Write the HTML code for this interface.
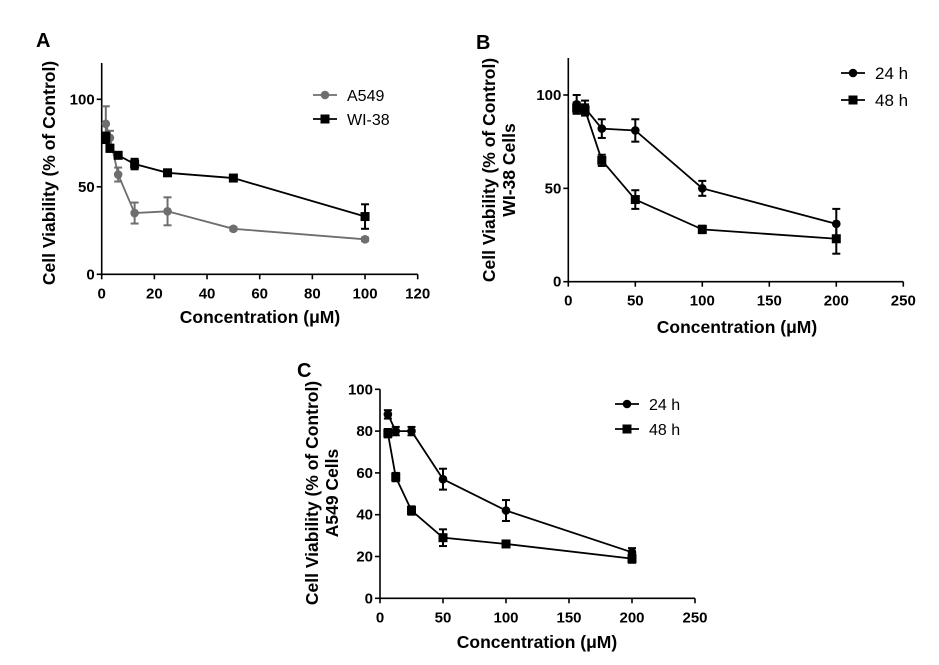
<!DOCTYPE html>
<html><head><meta charset="utf-8"><style>
html,body{margin:0;padding:0;background:#fff;}
svg{display:block;font-family:"Liberation Sans",Arial,sans-serif;}
</style></head><body>
<svg id="fig" width="939" height="665" viewBox="0 0 939 665">
<text x="36" y="47" font-size="20" font-weight="bold">A</text>
<text x="476" y="49" font-size="20" font-weight="bold">B</text>
<text x="297" y="377" font-size="20" font-weight="bold">C</text>
</svg>
<script>
const aX=[1.56,3.125,6.25,12.5,25,50,100];
const aA549=[86,78,57,35,36,26,20];
const aA549Err=[10,4,4,6,8,1,1];
const aWI38=[78,72,68,63,58,55,33];
const aWI38Err=[3,2,1,3,1,1,7];
const aXTicks=[0,20,40,60,80,100,120];
const aYTicks=[0,50,100];
const bX=[6.25,12.5,25,50,100,200];
const b24=[95,93,82,81,50,31];
const b24Err=[5,4,5,6,4,8];
const b48=[93,92,65,44,28,23];
const b48Err=[3,3,3,5,2,8];
const bXTicks=[0,50,100,150,200,250];
const bYTicks=[0,50,100];
const cX=[6.25,12.5,25,50,100,200];
const c24=[88,80,80,57,42,22];
const c24Err=[2,2,2,5,5,2];
const c48=[79,58,42,29,26,19];
const c48Err=[2,2,2,4,1,2];
const cXTicks=[0,50,100,150,200,250];
const cYTicks=[0,20,40,60,80,100];

const NS="http://www.w3.org/2000/svg";
const svg=document.getElementById('fig');
function el(tag,attrs,parent,text){const e=document.createElementNS(NS,tag);for(const k in attrs)e.setAttribute(k,attrs[k]);if(text!==undefined)e.textContent=text;(parent||svg).appendChild(e);return e;}

function panel(p){
  const g=el('g',{});
  
  
  const sx=v=>p.x0+(v-p.xmin)/(p.xmax-p.xmin)*(p.x1-p.x0);
  const sy=v=>p.y0-(v-p.ymin)/(p.ymax-p.ymin)*(p.y0-p.y1);
  const axG=el('g',{},g);
  
  
  el('line',{x1:p.x0,y1:p.y0,x2:p.x0,y2:p.ytop,stroke:'#000','stroke-width':1.6},axG);
  el('line',{x1:p.x0,y1:p.y0,x2:p.x1,y2:p.y0,stroke:'#000','stroke-width':1.6},axG);
  p.xt.forEach(t=>{const x=sx(t);
    el('line',{x1:x,y1:p.y0,x2:x,y2:p.y0+5,stroke:'#000','stroke-width':1.6},axG);
    const tx=el('text',{x:x,y:p.y0+24,'font-size':15,'font-weight':'bold','text-anchor':'middle'},axG,t);
    
    });
  p.yt.forEach(t=>{const y=sy(t);
    el('line',{x1:p.x0-5,y1:y,x2:p.x0,y2:y,stroke:'#000','stroke-width':1.6},axG);
    const ty=el('text',{x:p.x0-7,y:y+5,'font-size':15,'font-weight':'bold','text-anchor':'end'},axG,t);
    
    });
  const xt=el('text',{x:p.xtx,y:p.xty,'font-size':17.5,'font-weight':'bold','text-anchor':'middle'},g,'Concentration (μM)');
  
  
  p.ytitle.forEach((s,i)=>{
    const yt=el('text',{x:0,y:0,'font-size':17.5,'font-weight':'bold','text-anchor':'middle',transform:`translate(${p.ytx[i]},${p.yty}) rotate(-90)`},g,s);
    
    });
  p.series.forEach((s,si)=>{
    const sg=el('g',{},g);
    
    
    const pts=s.xs.map((v,i)=>sx(v)+','+sy(s.ys[i])).join(' ');
    el('polyline',{points:pts,fill:'none',stroke:s.color,'stroke-width':1.8},sg);
    s.xs.forEach((v,i)=>{const x=sx(v),y=sy(s.ys[i]),e=s.err[i];
      el('line',{x1:x,y1:sy(s.ys[i]+e),x2:x,y2:sy(s.ys[i]-e),stroke:s.color,'stroke-width':2},sg);
      el('line',{x1:x-4,y1:sy(s.ys[i]+e),x2:x+4,y2:sy(s.ys[i]+e),stroke:s.color,'stroke-width':2},sg);
      el('line',{x1:x-4,y1:sy(s.ys[i]-e),x2:x+4,y2:sy(s.ys[i]-e),stroke:s.color,'stroke-width':2},sg);
      let m;
      if(s.shape==='circle') m=el('circle',{cx:x,cy:y,r:4.3,fill:s.color},sg);
      else m=el('rect',{x:x-4.5,y:y-4.5,width:9,height:9,fill:s.color},sg);
      
      
    });
    const lg=el('g',{},g);
    
    
    const lx=p.legX, ly=p.legY[si];
    el('line',{x1:lx-12,y1:ly,x2:lx+12,y2:ly,stroke:s.color,'stroke-width':1.8},lg);
    if(s.shape==='circle') el('circle',{cx:lx,cy:ly,r:4.3,fill:s.color},lg);
    else el('rect',{x:lx-4.5,y:ly-4.5,width:9,height:9,fill:s.color},lg);
    el('text',{x:lx+22,y:ly+6,'font-size':p.legFs},lg,s.label);
  });
}

panel({name:'panel-a',x0:101.7,x1:417.7,xmin:0,xmax:120,y0:274.3,y1:99.3,ymin:0,ymax:100,ytop:63,
  xt:aXTicks,yt:aYTicks,xtx:260,xty:323,ytitle:['Cell Viability (% of Control)'],ytx:[55],yty:173,
  legX:325,legY:[95,119],legFs:16,
  series:[{label:'A549',xs:aX,ys:aA549,err:aA549Err,color:'#6e6e6e',shape:'circle'},
          {label:'WI-38',xs:aX,ys:aWI38,err:aWI38Err,color:'#000',shape:'rect'}]});
panel({name:'panel-b',x0:568.3,x1:903.3,xmin:0,xmax:250,y0:281.7,y1:95,ymin:0,ymax:100,ytop:58,
  xt:bXTicks,yt:bYTicks,xtx:737,xty:333,ytitle:['Cell Viability (% of Control)','WI-38 Cells'],ytx:[495,515],yty:170,
  legX:853,legY:[73,100],legFs:17,
  series:[{label:'24 h',xs:bX,ys:b24,err:b24Err,color:'#000',shape:'circle'},
          {label:'48 h',xs:bX,ys:b48,err:b48Err,color:'#000',shape:'rect'}]});
panel({name:'panel-c',x0:380,x1:695,xmin:0,xmax:250,y0:598.3,y1:389.3,ymin:0,ymax:100,ytop:389.3,
  xt:cXTicks,yt:cYTicks,xtx:537,xty:648,ytitle:['Cell Viability (% of Control)','A549 Cells'],ytx:[318,338],yty:493,
  legX:627,legY:[404,429],legFs:16,
  series:[{label:'24 h',xs:cX,ys:c24,err:c24Err,color:'#000',shape:'circle'},
          {label:'48 h',xs:cX,ys:c48,err:c48Err,color:'#000',shape:'rect'}]});
</script>
</body></html>
